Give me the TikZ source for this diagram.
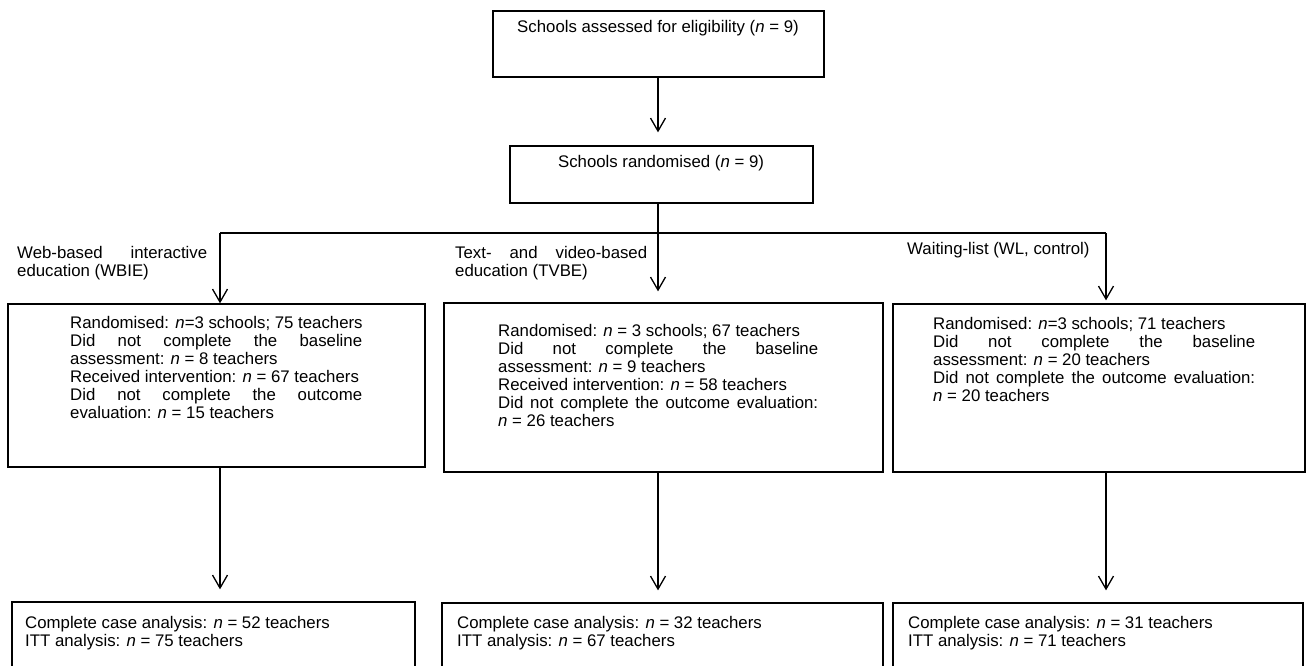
\documentclass[tikz,border=0pt]{standalone}
\usepackage{fontspec}
\setmainfont{Liberation Sans}
\usetikzlibrary{arrows.meta,fit}
\newcommand{\jl}[2]{\makebox[#1pt][s]{#2}}
\begin{document}
\begin{tikzpicture}[x=1pt,y=-1pt,
  box/.style={draw, line width=1.3pt, inner sep=0pt},
  txt/.style={inner sep=0pt, align=left, anchor=north west, font=\fontsize{16.8}{18}\selectfont},
  ctxt/.style={inner sep=0pt, anchor=center, font=\fontsize{16.8}{18}\selectfont},
  ln/.style={line width=1.3pt},
  arr/.style={line width=1.3pt, -{Straight Barb[length=13pt,width=15pt]}}]
\useasboundingbox (0,0) rectangle (1306,666);
\clip (0,0) rectangle (1306,666);
\fill[white] (0,0) rectangle (1306,666);

% boxes
\node[box, fit={(493,11) (824,77)}] (t1) {};
\node[box, fit={(510,146) (813,203)}] (t2) {};
\node[box, fit={(8,304) (425,467)}] (wb) {};
\node[box, fit={(444,303) (883,472)}] (tv) {};
\node[box, fit={(893,304) (1305,472)}] (wl) {};
\node[box, fit={(12,602) (415,700)}] (wbo) {};
\node[box, fit={(442,603) (883,700)}] (tvo) {};
\node[box, fit={(893,603) (1303,700)}] (wlo) {};

% texts
\node[ctxt] (t1t) at (658,28) {Schools assessed for eligibility (\textit{n} = 9)};
\node[ctxt] (t2t) at (661,163) {Schools randomised (\textit{n} = 9)};

\node[txt] (lwb) at (17,246) {\jl{190}{Web-based interactive}\\education (WBIE)};
\node[txt] (ltv) at (455,246) {\jl{192}{Text- and video-based}\\education (TVBE)};
\node[txt] (lwl) at (907,242) {Waiting-list (WL, control)};

\node[txt] (wbt) at (70,316) {Randomised: \textit{n}=3 schools; 75 teachers\\
\jl{292}{Did not complete the baseline}\\
assessment: \textit{n} = 8 teachers\\
Received intervention: \textit{n} = 67 teachers\\
\jl{292}{Did not complete the outcome}\\
evaluation: \textit{n} = 15 teachers};

\node[txt] (tvt) at (498,324) {Randomised: \textit{n} = 3 schools; 67 teachers\\
\jl{320}{Did not complete the baseline}\\
assessment: \textit{n} = 9 teachers\\
Received intervention: \textit{n} = 58 teachers\\
\jl{320}{Did not complete the outcome evaluation:}\\
\textit{n} = 26 teachers};

\node[txt] (wlt) at (933,317) {Randomised: \textit{n}=3 schools; 71 teachers\\
\jl{322}{Did not complete the baseline}\\
assessment: \textit{n} = 20 teachers\\
\jl{322}{Did not complete the outcome evaluation:}\\
\textit{n} = 20 teachers};

\node[txt] (wbot) at (25,616) {Complete case analysis: \textit{n} = 52 teachers\\ITT analysis: \textit{n} = 75 teachers};
\node[txt] (tvot) at (457,616) {Complete case analysis: \textit{n} = 32 teachers\\ITT analysis: \textit{n} = 67 teachers};
\node[txt] (wlot) at (908,616) {Complete case analysis: \textit{n} = 31 teachers\\ITT analysis: \textit{n} = 71 teachers};

% connectors
\coordinate (jm) at (658,233);
\coordinate (jl) at (220,233);
\coordinate (jr) at (1106,233);

\draw[arr, shorten >=13pt] (t1.south -| jm) -- (t2.north -| jm);
\draw[ln] (t2.south -| jm) -- (jm);
\draw[arr, shorten >=11pt] (jm) -- (tv.north -| jm);
\draw[ln] (jl) -- (jr);
\draw[arr] (jl) -- (wb.north -| jl);
\draw[arr, shorten >=3pt] (jr) -- (wl.north -| jr);

\draw[arr, shorten >=12pt] (wb.south -| jl) -- (wbo.north -| jl);
\draw[arr, shorten >=12pt] (tv.south -| jm) -- (tvo.north -| jm);
\draw[arr, shorten >=12pt] (wl.south -| jr) -- (wlo.north -| jr);
\end{tikzpicture}
\end{document}
